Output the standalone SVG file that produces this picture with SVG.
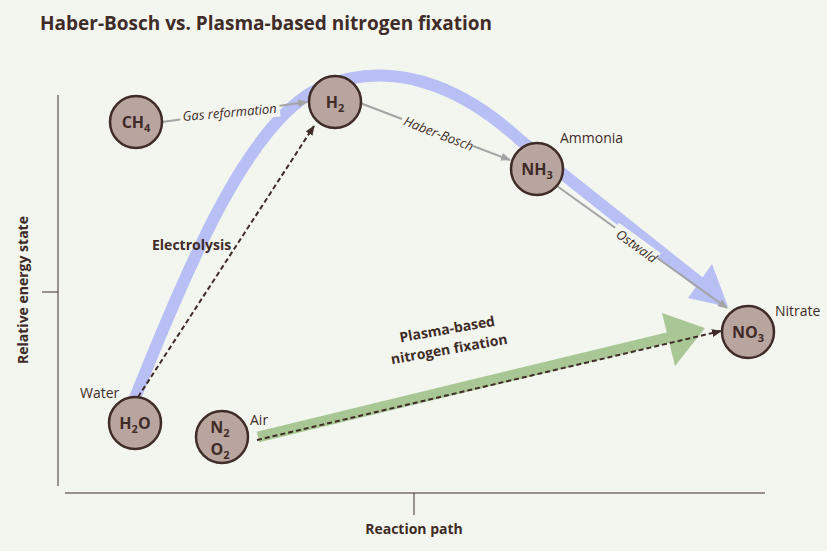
<svg xmlns="http://www.w3.org/2000/svg" width="827" height="551" viewBox="0 0 827 551">
<style>
text{font-family:"Open Sans","Noto Sans",sans-serif;fill:#3f2b27}
.n circle{fill:#b9a59f;stroke:#3f2b27;stroke-width:2.5}
.n text{font-size:16px;font-weight:bold;text-anchor:middle}
.lab{font-size:14px}
.it{font-size:13px;font-style:italic;text-anchor:middle}
.b{font-weight:bold;font-size:14px}
.gray{stroke:#a3a3a3;stroke-width:2;fill:none;marker-end:url(#ga)}
.dash{stroke:#3f2b27;stroke-width:2;stroke-dasharray:5,3;fill:none;marker-end:url(#da)}
</style>
<defs>
<marker id="ga" markerWidth="10" markerHeight="8" refX="9" refY="4" orient="auto" markerUnits="userSpaceOnUse"><path d="M0,0 L10,4 L0,8 Z" fill="#a3a3a3"/></marker>
<marker id="da" markerWidth="10" markerHeight="8" refX="9" refY="4" orient="auto" markerUnits="userSpaceOnUse"><path d="M0,0 L10,4 L0,8 Z" fill="#3f2b27"/></marker>
</defs>
<rect width="827" height="551" fill="#f3f6ef"/>
<text x="40" y="30" font-size="19" font-weight="bold">Haber-Bosch vs. Plasma-based nitrogen fixation</text>
<g id="axes" stroke="#3f2b27" stroke-width="1">
<line x1="58" y1="95" x2="58" y2="486"/><line x1="42" y1="292" x2="58" y2="292"/>
<line x1="65" y1="493" x2="765" y2="493"/><line x1="414" y1="493" x2="414" y2="515"/>
</g>
<text x="414" y="534" class="b" font-size="15" text-anchor="middle">Reaction path</text>
<text transform="translate(28,290) rotate(-90)" class="b" font-size="15" text-anchor="middle">Relative energy state</text>
<g id="connectors">
<path d="M135,398 C190,260 250,120 320,88 C390,58 460,85 520,140 L700,283" stroke="#b7bff5" stroke-width="12" fill="none"/>
<polygon points="728,307 712,264 688,298" fill="#b7bff5"/>
<line x1="258" y1="437" x2="675" y2="336" stroke="#a9c795" stroke-width="11"/>
<polygon points="705,328 662,313 675,366" fill="#a9c795"/>
<line x1="162" y1="122" x2="307" y2="102" class="gray"/>
<line x1="360" y1="103" x2="510" y2="160" class="gray"/>
<line x1="557" y1="186" x2="727" y2="308" class="gray"/>
<line x1="138" y1="397" x2="314" y2="126" class="dash"/>
<line x1="257" y1="440" x2="721" y2="331" class="dash"/>
<g>
<rect x="-50" y="-10" width="100" height="18" fill="#f3f6ef" transform="translate(230,113) rotate(-5)"/>
<text class="it" transform="translate(230,117) rotate(-5)">Gas reformation</text>
<rect x="-38" y="-10" width="76" height="18" fill="#f3f6ef" transform="translate(437,134) rotate(21)"/>
<text class="it" transform="translate(437,138) rotate(21)">Haber-Bosch</text>
<rect x="-26" y="-10" width="52" height="18" fill="#f3f6ef" transform="translate(634,246) rotate(36)"/>
<text class="it" transform="translate(634,250) rotate(36)">Ostwald</text>
</g>
</g>
<g id="CH4" class="n"><circle cx="136" cy="122" r="26"/><text x="136" y="128">CH<tspan font-size="11" dy="4">4</tspan></text></g>
<g id="H2" class="n"><circle cx="335" cy="102" r="26"/><text x="335" y="108">H<tspan font-size="11" dy="4">2</tspan></text></g>
<g id="NH3" class="n"><circle cx="537" cy="169" r="26"/><text x="537" y="175">NH<tspan font-size="11" dy="4">3</tspan></text></g>
<g id="NO3" class="n"><circle cx="748" cy="332" r="26"/><text x="748" y="338">NO<tspan font-size="11" dy="4">3</tspan></text></g>
<g id="H2O" class="n"><circle cx="135" cy="423" r="26"/><text x="135" y="429">H<tspan font-size="11" dy="4">2</tspan><tspan dy="-4">O</tspan></text></g>
<g id="N2O2" class="n"><circle cx="222" cy="437" r="26"/><text x="220" y="433">N<tspan font-size="11" dy="4">2</tspan></text><text x="220" y="455">O<tspan font-size="11" dy="4">2</tspan></text></g>
<text x="560" y="143" class="lab">Ammonia</text>
<text x="775" y="316" class="lab">Nitrate</text>
<text x="80" y="398" class="lab">Water</text>
<text x="250" y="425" class="lab">Air</text>
<text x="152" y="250" class="b" font-size="13">Electrolysis</text>
<text transform="translate(448,334) rotate(-10)" class="b" font-size="13" text-anchor="middle">Plasma-based</text>
<text transform="translate(450,354) rotate(-10)" class="b" font-size="13" text-anchor="middle">nitrogen fixation</text>
</svg>
